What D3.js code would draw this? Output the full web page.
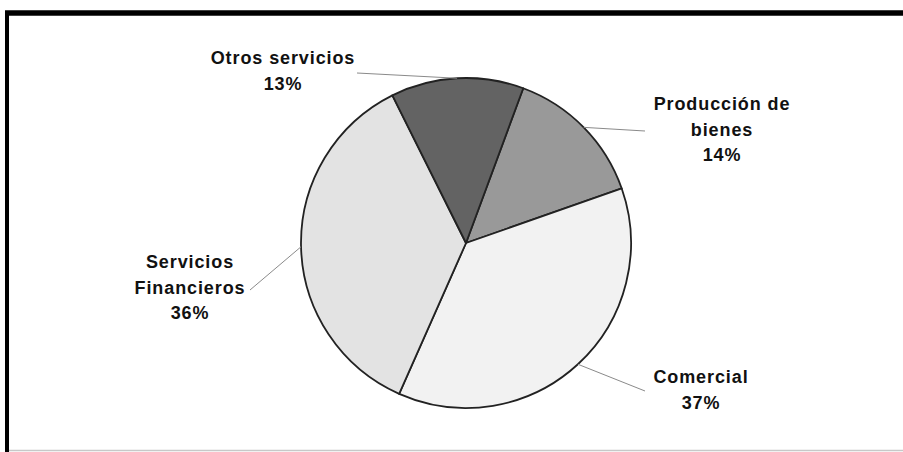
<!DOCTYPE html>
<html>
<head>
<meta charset="utf-8">
<script src="https://cdn.jsdelivr.net/npm/d3@7"></script>
<style>
  html, body { margin: 0; padding: 0; background: #fff; }
  svg { display: block; }
  .lbl { font-family: "Liberation Sans", Arial, sans-serif; font-weight: bold; font-size: 18px; letter-spacing: 0.9px; fill: #111; }
</style>
</head>
<body>
<svg id="chart" width="903" height="452"></svg>
<script>
// Distribución por sector
const categories = ["Producción de bienes", "Comercial", "Servicios Financieros", "Otros servicios"];
const labelLines = [["Producción de", "bienes"], ["Comercial"], ["Servicios", "Financieros"], ["Otros servicios"]];
const values = [14, 37, 36, 13];
const fills = ["#999999", "#f2f2f2", "#e3e3e3", "#636363"];

// label anchor (centre of text block) and leader-line end, in px
const labelPos = [[722, 104], [701, 377], [190, 262], [283, 58]];
const leaderEnd = [[645, 131], [645, 391], [250, 290], [357, 73]];

const W = 903, H = 452;
const cx = 466, cy = 243, R = 165;
const startAngle = 20.3 * Math.PI / 180;

const svg = d3.select("#chart");

// frame: heavy top and left rules, light rule at the bottom
svg.append("rect").attr("x", 0).attr("y", 0).attr("width", W).attr("height", H).attr("fill", "#fff");
svg.append("line").attr("x1", 5).attr("x2", W).attr("y1", 13).attr("y2", 13)
  .attr("stroke", "#000").attr("stroke-width", 5.5);
svg.append("line").attr("x1", 7).attr("x2", 7).attr("y1", 11).attr("y2", H)
  .attr("stroke", "#000").attr("stroke-width", 4);
svg.append("line").attr("x1", 9).attr("x2", W).attr("y1", 450.5).attr("y2", 450.5)
  .attr("stroke", "#c8c8c8").attr("stroke-width", 1.5);

const pie = d3.pie().sort(null).value(d => d)
  .startAngle(startAngle).endAngle(startAngle + 2 * Math.PI);
const arcs = pie(values);
const arc = d3.arc().innerRadius(0).outerRadius(R);

const g = svg.append("g").attr("transform", `translate(${cx},${cy})`);
g.selectAll("path").data(arcs).join("path")
  .attr("d", arc)
  .attr("fill", (d, i) => fills[i])
  .attr("stroke", "#222")
  .attr("stroke-width", 1.8)
  .attr("stroke-linejoin", "round");

// leader lines from the arc edge to the label
const edge = d3.arc().innerRadius(R).outerRadius(R);
arcs.forEach((d, i) => {
  const [x, y] = edge.centroid(d);
  svg.append("line")
    .attr("x1", cx + x).attr("y1", cy + y)
    .attr("x2", leaderEnd[i][0]).attr("y2", leaderEnd[i][1])
    .attr("stroke", "#8a8a8a").attr("stroke-width", 1);
});

// labels: category name lines plus the percentage
const lineH = 25.5;
arcs.forEach((d, i) => {
  const lines = labelLines[i].concat([d3.format(".0f")(values[i]) + "%"]);
  const t = svg.append("text").attr("class", "lbl").attr("text-anchor", "middle");
  lines.forEach((s, k) => {
    t.append("tspan").attr("x", labelPos[i][0]).attr("y", labelPos[i][1] + 6 + k * lineH).text(s);
  });
});
</script>
</body>
</html>
